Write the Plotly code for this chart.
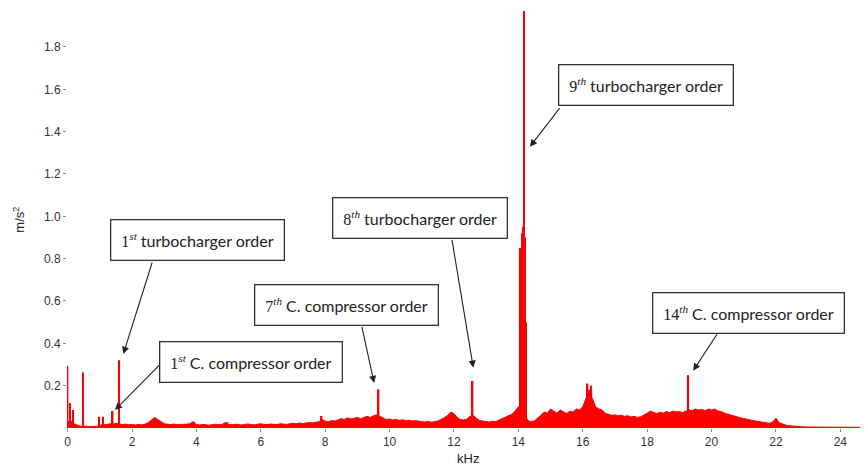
import numpy as np
import plotly.graph_objects as go

# ---------------- data ----------------
# broadband spectrum level, sampled every 0.1 kHz from 0.0 to 25.6 kHz (m/s^2)
bg_start_khz = 0.0
bg_step_khz = 0.1
bg_amp = [
    0.03, 0.035, 0.02, 0.012, 0.008, 0.01, 0.007, 0.006, 0.008, 0.007,
    0.012, 0.018, 0.015, 0.02, 0.018, 0.022, 0.02, 0.016, 0.018, 0.015,
    0.016, 0.014, 0.017, 0.015, 0.018, 0.025, 0.038, 0.05, 0.04, 0.028,
    0.02, 0.018, 0.016, 0.019, 0.015, 0.017, 0.016, 0.018, 0.02, 0.03,
    0.016, 0.014, 0.017, 0.015, 0.013, 0.016, 0.018, 0.015, 0.017, 0.026,
    0.017, 0.015, 0.018, 0.016, 0.014, 0.017, 0.019, 0.016, 0.015, 0.018,
    0.02, 0.017, 0.016, 0.019, 0.018, 0.016, 0.02, 0.018, 0.017, 0.02,
    0.022, 0.02, 0.024, 0.021, 0.023, 0.026, 0.024, 0.027, 0.03, 0.04,
    0.032, 0.03, 0.035, 0.033, 0.038, 0.044, 0.04, 0.048, 0.042, 0.046,
    0.05, 0.044, 0.048, 0.055, 0.05, 0.058, 0.062, 0.055, 0.045, 0.04,
    0.042, 0.038, 0.04, 0.036, 0.039, 0.035, 0.037, 0.033, 0.035, 0.031,
    0.03, 0.028, 0.032, 0.027, 0.03, 0.033, 0.04, 0.048, 0.06, 0.075,
    0.068, 0.05, 0.04, 0.038, 0.042, 0.055, 0.06, 0.045, 0.035, 0.032,
    0.03, 0.028, 0.032, 0.03, 0.038, 0.045, 0.05, 0.058, 0.065, 0.08,
    0.1, 0.11, 0.06, 0.035, 0.03, 0.034, 0.045, 0.06, 0.075, 0.07,
    0.09, 0.08, 0.07, 0.085, 0.075, 0.068, 0.08, 0.075, 0.09, 0.085,
    0.1, 0.14, 0.16, 0.14, 0.1, 0.09, 0.085, 0.07, 0.065, 0.06,
    0.062, 0.058, 0.06, 0.055, 0.058, 0.052, 0.055, 0.05, 0.053, 0.06,
    0.07, 0.08, 0.072, 0.068, 0.075, 0.07, 0.078, 0.072, 0.08, 0.075,
    0.078, 0.072, 0.08, 0.085, 0.082, 0.09, 0.085, 0.088, 0.082, 0.09,
    0.085, 0.09, 0.08, 0.078, 0.07, 0.065, 0.06, 0.055, 0.052, 0.048,
    0.045, 0.04, 0.038, 0.035, 0.033, 0.03, 0.028, 0.025, 0.022, 0.03,
    0.045, 0.025, 0.018, 0.014, 0.011, 0.009, 0.008, 0.007, 0.006, 0.005,
    0.005, 0.004, 0.004, 0.004, 0.003, 0.004, 0.003, 0.003, 0.003, 0.003,
    0.003, 0.003, 0.002, 0.003, 0.002, 0.002, 0.002, 0.002, 0.002, 0.002,
    0.002, 0.002, 0.002, 0.002, 0.002, 0.002, 0.002,
]

# narrow tonal peaks (kHz, m/s^2)
peak_khz = [0.0, 0.08, 0.16, 0.48, 0.97, 1.1, 1.4, 1.6, 3.93, 4.97, 7.89,
            9.66, 12.58, 14.07, 14.11, 14.15, 14.17, 14.2, 14.24,
            16.15, 16.2, 16.27, 19.28, 22.02]
peak_amp = [0.293, 0.118, 0.085, 0.262, 0.053, 0.053, 0.08, 0.32, 0.03, 0.027, 0.057,
            0.183, 0.222, 0.85, 0.92, 0.95, 1.97, 0.9, 0.5,
            0.21, 0.18, 0.2, 0.25, 0.045]

x_ticks = [0, 2, 4, 6, 8, 10, 12, 14, 16, 18, 20, 22, 24]
y_ticks = [0.2, 0.4, 0.6, 0.8, 1.0, 1.2, 1.4, 1.6, 1.8]
y_ticktext = ["0.2", "0.4", "0.6", "0.8", "1.0", "1.2", "1.4", "1.6", "1.8"]
x_title = "kHz"
y_title = "m/s<sup>2</sup>"

num_font = "font-family:'Liberation Serif'"
labels = [
    f"<span style=\"{num_font}\">1<sup><i>st</i></sup></span> turbocharger order",
    f"<span style=\"{num_font}\">1<sup><i>st</i></sup></span> C. compressor order",
    f"<span style=\"{num_font}\">7<sup><i>th</i></sup></span> C. compressor order",
    f"<span style=\"{num_font}\">8<sup><i>th</i></sup></span> turbocharger order",
    f"<span style=\"{num_font}\">9<sup><i>th</i></sup></span> turbocharger order",
    f"<span style=\"{num_font}\">14<sup><i>th</i></sup></span> C. compressor order",
]
# box centres (kHz, m/s^2)
label_x = [4.04, 5.70, 8.65, 10.95, 17.95, 21.16]
label_y = [0.887, 0.313, 0.582, 0.992, 1.62, 0.545]
# arrow tails and heads (kHz, m/s^2)
arrow_x0 = [2.64, 2.92, 9.13, 11.93, 15.32, 20.20]
arrow_y0 = [0.789, 0.308, 0.485, 0.896, 1.518, 0.45]
arrow_x1 = [1.73, 1.47, 9.52, 12.60, 14.36, 19.43]
arrow_y1 = [0.35, 0.085, 0.213, 0.285, 1.329, 0.271]

# ---------------- figure ----------------
bg_khz = bg_start_khz + bg_step_khz * np.arange(len(bg_amp))
RED = "#ff0000"

fig = go.Figure()
fig.add_trace(go.Scatter(
    x=bg_khz, y=bg_amp, mode="lines", fill="tozeroy",
    line=dict(color=RED, width=1), fillcolor=RED, hoverinfo="skip",
    showlegend=False,
))
fig.add_trace(go.Bar(
    x=peak_khz, y=peak_amp, width=0.045,
    marker=dict(color=RED, line=dict(width=0)), showlegend=False,
))

for i in range(len(labels)):
    fig.add_annotation(
        x=arrow_x1[i], y=arrow_y1[i], ax=arrow_x0[i], ay=arrow_y0[i],
        xref="x", yref="y", axref="x", ayref="y", text="",
        showarrow=True, arrowhead=2, arrowsize=1.3, arrowwidth=1.1,
        arrowcolor="#222222", standoff=0, startstandoff=0,
    )
    fig.add_annotation(
        x=label_x[i], y=label_y[i], xref="x", yref="y", text=labels[i],
        showarrow=False, font=dict(family="Lato", size=16, color="#222222"),
        bgcolor="white", bordercolor="#333333", borderwidth=1.3, borderpad=10,
        xanchor="center", yanchor="middle",
    )

# axis titles placed as annotations (plot area 801 x 417 px)
fig.add_annotation(
    x=0.5, y=-0.072, xref="paper", yref="paper", text=x_title, showarrow=False,
    font=dict(family="Liberation Sans", size=13, color="#222222"),
    xanchor="center", yanchor="middle",
)
fig.add_annotation(
    x=-0.061, y=0.5, xref="paper", yref="paper", text=y_title, showarrow=False,
    textangle=-90, font=dict(family="Liberation Sans", size=13, color="#222222"),
    xanchor="center", yanchor="middle",
)

axis_font = dict(family="Liberation Sans", size=12, color="#333333")
# the page body adds an 8 px offset, so the figure is 8 px smaller than the window
fig.update_layout(
    width=860, height=457,
    margin=dict(l=59, r=0, t=3, b=37, autoexpand=False),
    paper_bgcolor="white", plot_bgcolor="white",
    barmode="overlay", showlegend=False,
    xaxis=dict(
        range=[-0.02, 24.86], tickvals=x_ticks, ticks="outside", ticklen=3,
        tickcolor="#888888", showgrid=False, zeroline=False, showline=False,
        tickfont=axis_font, automargin=False,
    ),
    yaxis=dict(
        range=[0, 1.97], tickvals=y_ticks, ticktext=y_ticktext, ticks="outside",
        ticklen=3, tickcolor="#888888", showgrid=False, zeroline=False,
        showline=False, tickfont=axis_font, automargin=False,
    ),
)

fig.write_html("out.html")
